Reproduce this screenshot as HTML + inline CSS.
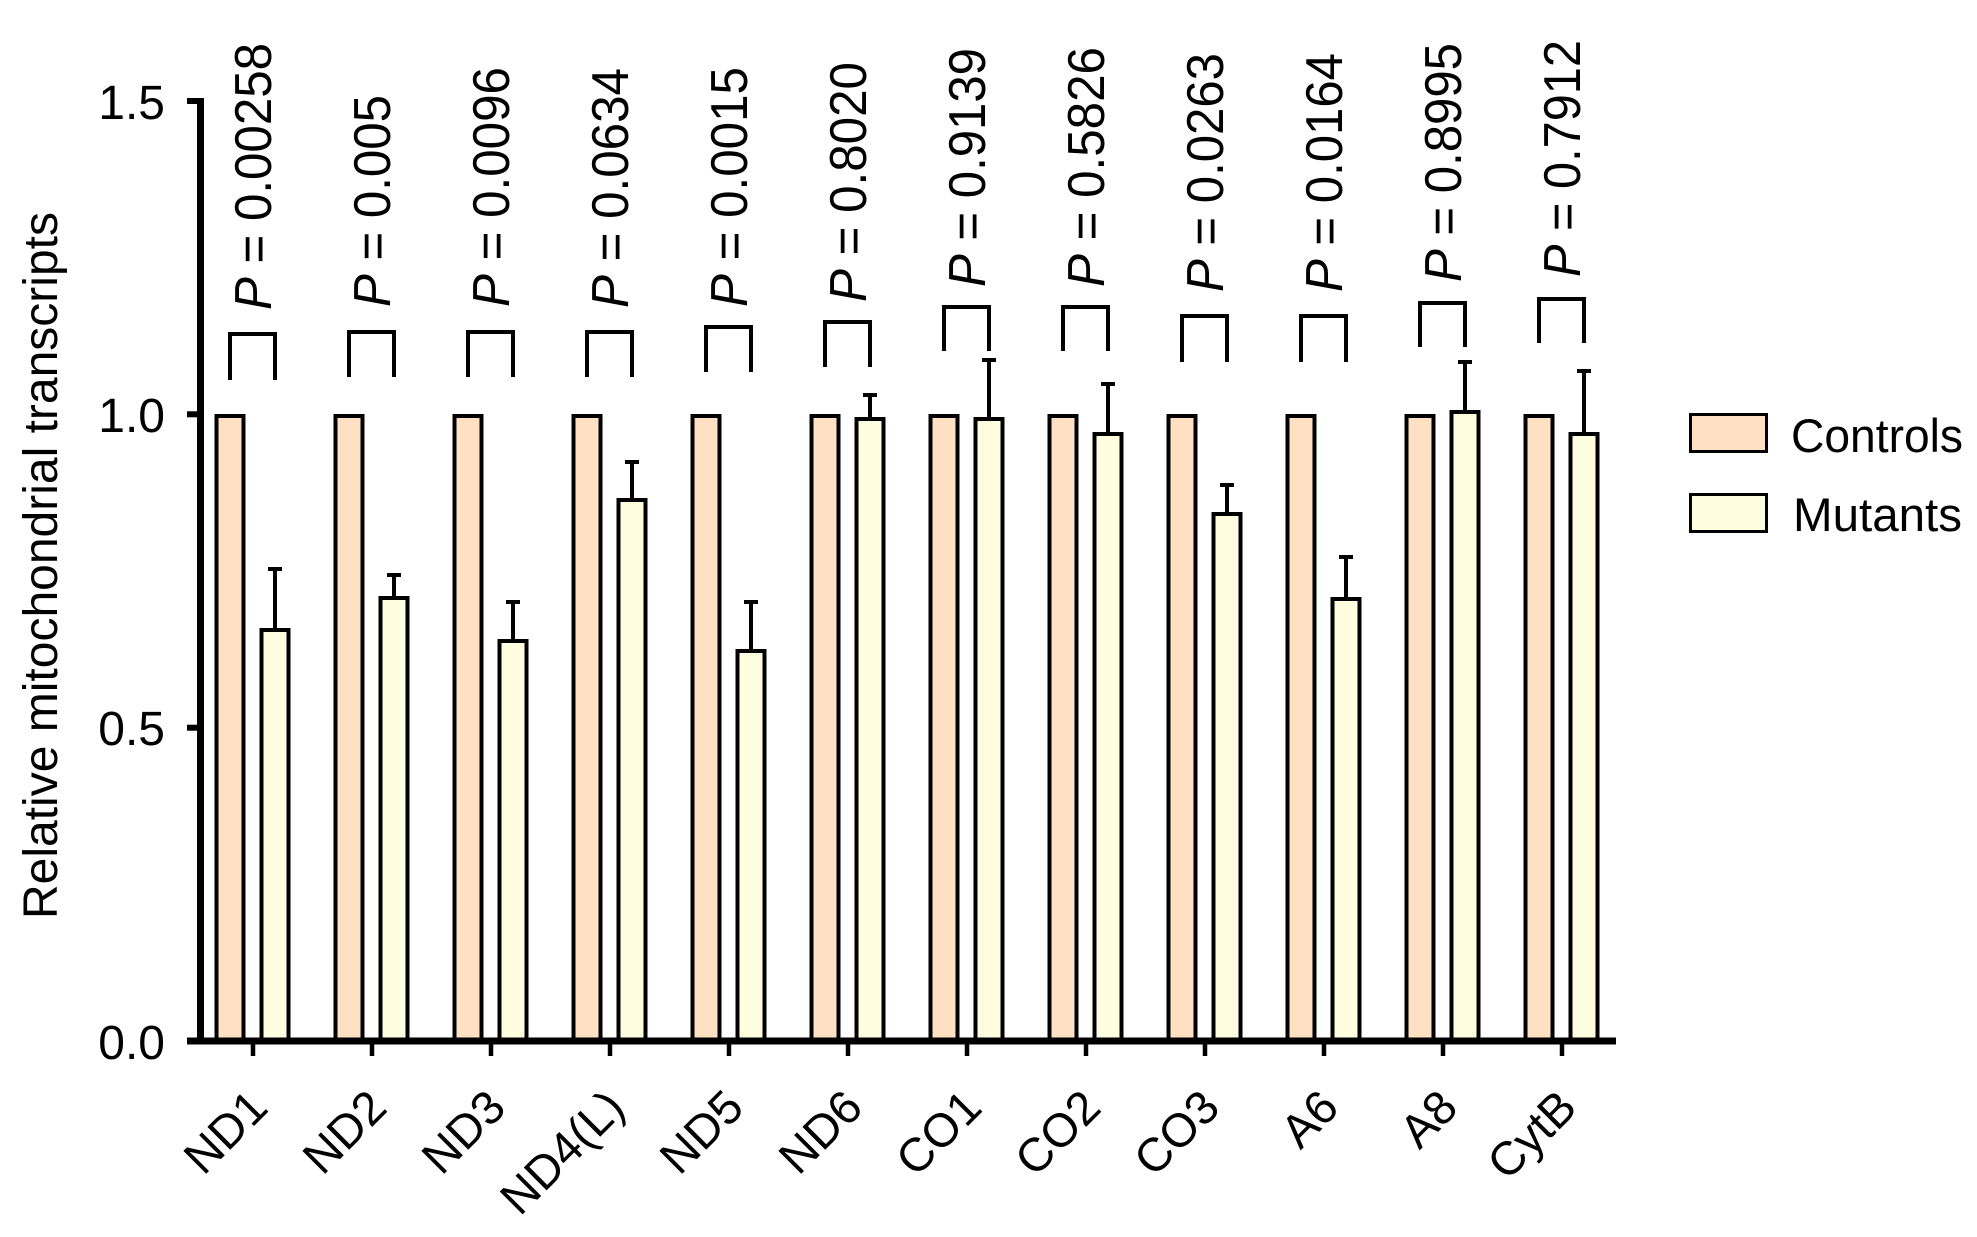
<!DOCTYPE html>
<html>
<head>
<meta charset="utf-8">
<style>
html,body{margin:0;padding:0;background:#fff;}
svg{display:block;}
text{font-family:"Liberation Sans","DejaVu Sans",sans-serif;fill:#000;}
</style>
</head>
<body>
<svg width="1977" height="1237" viewBox="0 0 1977 1237" xmlns="http://www.w3.org/2000/svg">
<g id="bars" stroke="#000" stroke-width="4">
<!-- ND1 -->
<rect x="216.5" y="416" width="27" height="625" fill="#FFE0C2"/>
<rect x="261.5" y="630" width="27" height="411" fill="#FFFDE0"/>
<!-- ND2 -->
<rect x="335.5" y="416" width="27" height="625" fill="#FFE0C2"/>
<rect x="380.5" y="598" width="27" height="443" fill="#FFFDE0"/>
<!-- ND3 -->
<rect x="454.5" y="416" width="27" height="625" fill="#FFE0C2"/>
<rect x="499.5" y="641" width="27" height="400" fill="#FFFDE0"/>
<!-- ND4 -->
<rect x="573.5" y="416" width="27" height="625" fill="#FFE0C2"/>
<rect x="618.5" y="500" width="27" height="541" fill="#FFFDE0"/>
<!-- ND5 -->
<rect x="692.5" y="416" width="27" height="625" fill="#FFE0C2"/>
<rect x="737.5" y="651" width="27" height="390" fill="#FFFDE0"/>
<!-- ND6 -->
<rect x="811.5" y="416" width="27" height="625" fill="#FFE0C2"/>
<rect x="856.5" y="419" width="27" height="622" fill="#FFFDE0"/>
<!-- CO1 -->
<rect x="930.5" y="416" width="27" height="625" fill="#FFE0C2"/>
<rect x="975.5" y="419" width="27" height="622" fill="#FFFDE0"/>
<!-- CO2 -->
<rect x="1049.5" y="416" width="27" height="625" fill="#FFE0C2"/>
<rect x="1094.5" y="434" width="27" height="607" fill="#FFFDE0"/>
<!-- CO3 -->
<rect x="1168.5" y="416" width="27" height="625" fill="#FFE0C2"/>
<rect x="1213.5" y="514" width="27" height="527" fill="#FFFDE0"/>
<!-- A6 -->
<rect x="1287.5" y="416" width="27" height="625" fill="#FFE0C2"/>
<rect x="1332.5" y="599" width="27" height="442" fill="#FFFDE0"/>
<!-- A8 -->
<rect x="1406.5" y="416" width="27" height="625" fill="#FFE0C2"/>
<rect x="1451.5" y="412" width="27" height="629" fill="#FFFDE0"/>
<!-- CytB -->
<rect x="1525.5" y="416" width="27" height="625" fill="#FFE0C2"/>
<rect x="1570.5" y="434" width="27" height="607" fill="#FFFDE0"/>
</g>

<g id="errors" stroke="#000" stroke-width="4" fill="none">
<path d="M275 567V628M268 569H282"/>
<path d="M394 573V596M387 575H401"/>
<path d="M513 600V639M506 602H520"/>
<path d="M632 460V498M625 462H639"/>
<path d="M751 600V649M744 602H758"/>
<path d="M870 393V417M863 395H877"/>
<path d="M989 358V417M982 360H996"/>
<path d="M1108 382V432M1101 384H1115"/>
<path d="M1227 483V512M1220 485H1234"/>
<path d="M1346 555V597M1339 557H1353"/>
<path d="M1465 360V410M1458 362H1472"/>
<path d="M1584 369V432M1577 371H1591"/>
</g>

<g id="brackets" stroke="#000" stroke-width="4" fill="none">
<path d="M230 380V334H275V380"/>
<path d="M349 377V332H394V377"/>
<path d="M468 377V332H513V377"/>
<path d="M587 377V332H632V377"/>
<path d="M706 372V327H751V372"/>
<path d="M825 367V322H870V367"/>
<path d="M944 351V307H989V351"/>
<path d="M1063 351V307H1108V351"/>
<path d="M1182 362V316H1227V362"/>
<path d="M1301 362V316H1346V362"/>
<path d="M1420 347V303H1465V347"/>
<path d="M1539 343V299H1584V343"/>
</g>

<g id="pvals" font-size="52">
<text transform="translate(271,310) rotate(-90)" textLength="267" lengthAdjust="spacingAndGlyphs"><tspan font-style="italic">P</tspan> = 0.00258</text>
<text transform="translate(390,307) rotate(-90)" textLength="212" lengthAdjust="spacingAndGlyphs"><tspan font-style="italic">P</tspan> = 0.005</text>
<text transform="translate(509,307) rotate(-90)" textLength="240" lengthAdjust="spacingAndGlyphs"><tspan font-style="italic">P</tspan> = 0.0096</text>
<text transform="translate(628,308) rotate(-90)" textLength="240" lengthAdjust="spacingAndGlyphs"><tspan font-style="italic">P</tspan> = 0.0634</text>
<text transform="translate(747,307) rotate(-90)" textLength="240" lengthAdjust="spacingAndGlyphs"><tspan font-style="italic">P</tspan> = 0.0015</text>
<text transform="translate(866,302) rotate(-90)" textLength="240" lengthAdjust="spacingAndGlyphs"><tspan font-style="italic">P</tspan> = 0.8020</text>
<text transform="translate(985,287) rotate(-90)" textLength="239" lengthAdjust="spacingAndGlyphs"><tspan font-style="italic">P</tspan> = 0.9139</text>
<text transform="translate(1104,287) rotate(-90)" textLength="240" lengthAdjust="spacingAndGlyphs"><tspan font-style="italic">P</tspan> = 0.5826</text>
<text transform="translate(1223,292) rotate(-90)" textLength="239" lengthAdjust="spacingAndGlyphs"><tspan font-style="italic">P</tspan> = 0.0263</text>
<text transform="translate(1342,292) rotate(-90)" textLength="239" lengthAdjust="spacingAndGlyphs"><tspan font-style="italic">P</tspan> = 0.0164</text>
<text transform="translate(1461,282) rotate(-90)" textLength="239" lengthAdjust="spacingAndGlyphs"><tspan font-style="italic">P</tspan> = 0.8995</text>
<text transform="translate(1580,277) rotate(-90)" textLength="237" lengthAdjust="spacingAndGlyphs"><tspan font-style="italic">P</tspan> = 0.7912</text>
</g>

<g id="axes" stroke="#000" fill="none">
<line x1="200.5" y1="98" x2="200.5" y2="1044" stroke-width="7"/>
<line x1="187" y1="1041" x2="1616" y2="1041" stroke-width="7"/>
<line x1="187" y1="101" x2="200" y2="101" stroke-width="6"/>
<line x1="187" y1="414.3" x2="200" y2="414.3" stroke-width="6"/>
<line x1="187" y1="727.7" x2="200" y2="727.7" stroke-width="6"/>
<g stroke-width="4.5">
<line x1="253" y1="1044" x2="253" y2="1056"/>
<line x1="372" y1="1044" x2="372" y2="1056"/>
<line x1="491" y1="1044" x2="491" y2="1056"/>
<line x1="610" y1="1044" x2="610" y2="1056"/>
<line x1="729" y1="1044" x2="729" y2="1056"/>
<line x1="848" y1="1044" x2="848" y2="1056"/>
<line x1="967" y1="1044" x2="967" y2="1056"/>
<line x1="1086" y1="1044" x2="1086" y2="1056"/>
<line x1="1205" y1="1044" x2="1205" y2="1056"/>
<line x1="1324" y1="1044" x2="1324" y2="1056"/>
<line x1="1443" y1="1044" x2="1443" y2="1056"/>
<line x1="1562" y1="1044" x2="1562" y2="1056"/>
</g>
</g>

<g id="yticklabels" font-size="48" text-anchor="end">
<text x="165" y="119">1.5</text>
<text x="165" y="432">1.0</text>
<text x="165" y="745">0.5</text>
<text x="165" y="1059">0.0</text>
</g>

<text transform="translate(57,565.5) rotate(-90)" font-size="48" text-anchor="middle" textLength="707" lengthAdjust="spacingAndGlyphs">Relative mitochondrial transcripts</text>

<g id="xlabels" font-size="47" text-anchor="end">
<text transform="translate(270,1110) rotate(-45)">ND1</text>
<text transform="translate(389,1110) rotate(-45)">ND2</text>
<text transform="translate(508,1110) rotate(-45)">ND3</text>
<text transform="translate(627,1110) rotate(-45)">ND4(L)</text>
<text transform="translate(746,1110) rotate(-45)">ND5</text>
<text transform="translate(865,1110) rotate(-45)">ND6</text>
<text transform="translate(984,1110) rotate(-45)">CO1</text>
<text transform="translate(1103,1110) rotate(-45)">CO2</text>
<text transform="translate(1222,1110) rotate(-45)">CO3</text>
<text transform="translate(1341,1110) rotate(-45)">A6</text>
<text transform="translate(1460,1110) rotate(-45)">A8</text>
<text transform="translate(1579,1110) rotate(-45)">CytB</text>
</g>

<g id="legend">
<rect x="1690.5" y="414.5" width="76" height="37" fill="#FFE0C2" stroke="#000" stroke-width="3"/>
<rect x="1690.5" y="494.5" width="76" height="37" fill="#FFFDE0" stroke="#000" stroke-width="3"/>
<text x="1791" y="452" font-size="47" textLength="172" lengthAdjust="spacingAndGlyphs">Controls</text>
<text x="1793" y="531" font-size="47" textLength="169" lengthAdjust="spacingAndGlyphs">Mutants</text>
</g>
</svg>
</body>
</html>
